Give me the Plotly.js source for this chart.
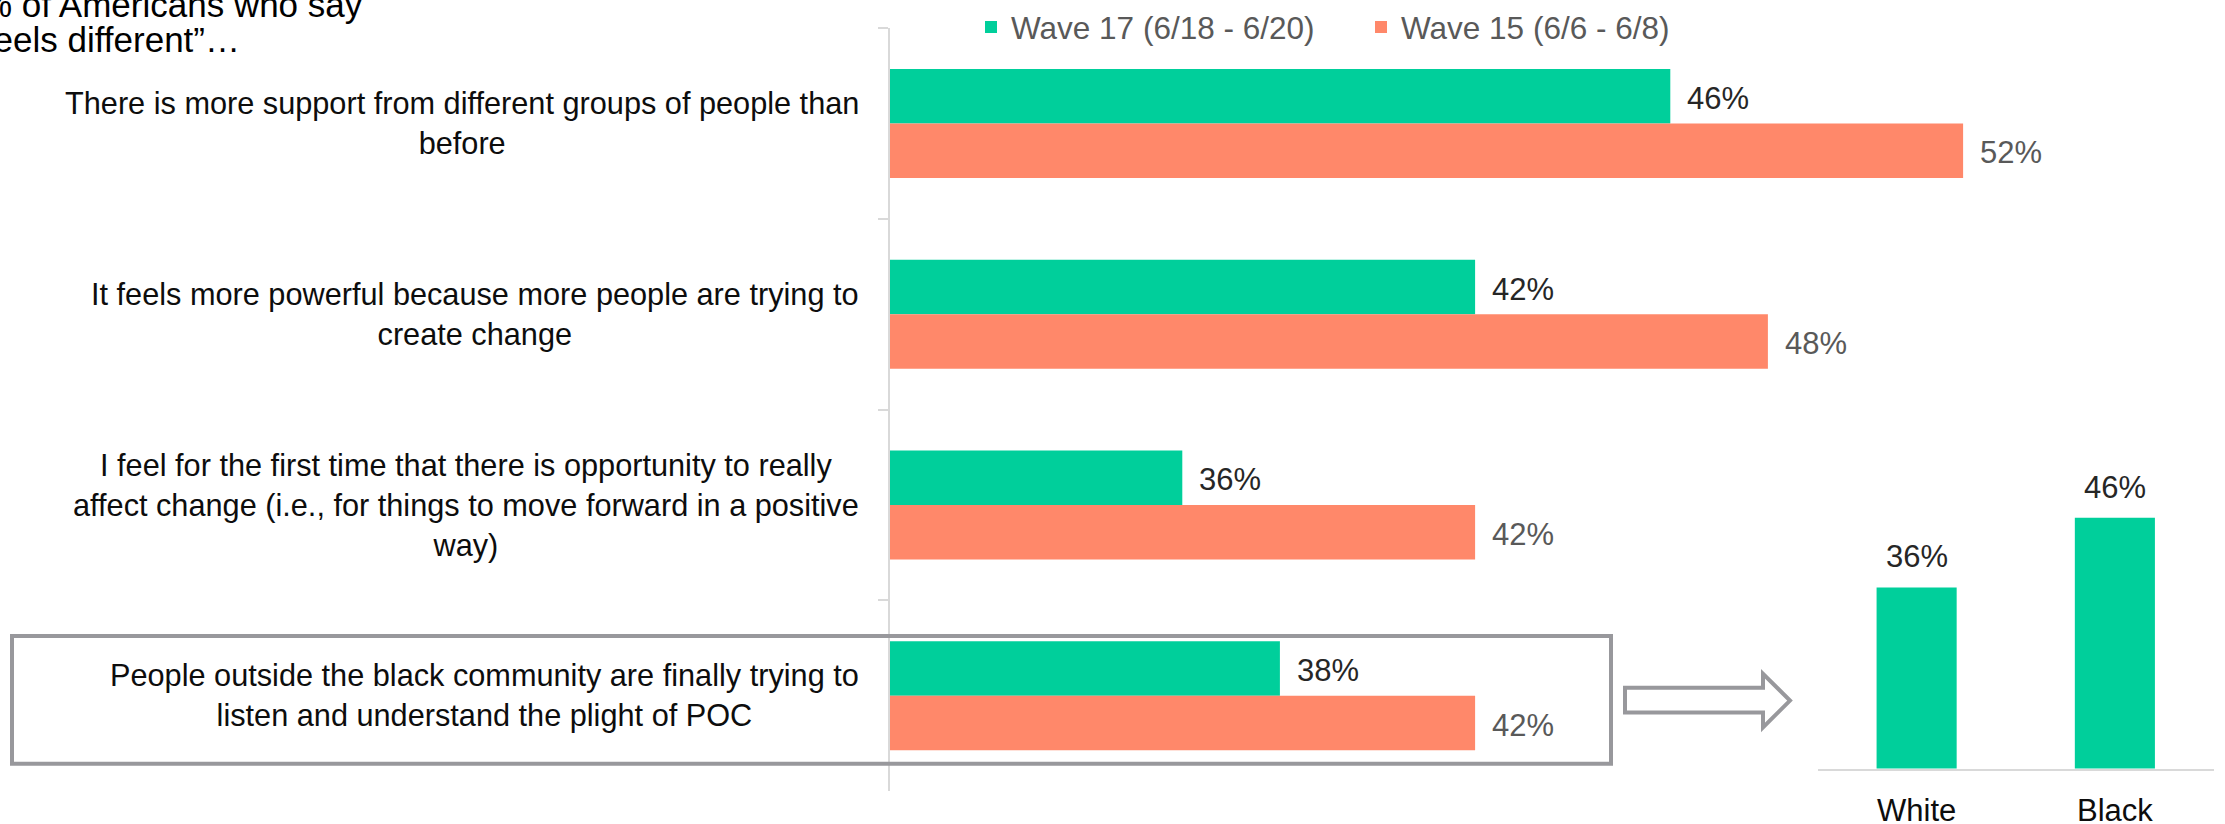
<!DOCTYPE html>
<html>
<head>
<meta charset="utf-8">
<script src="https://cdn.plot.ly/plotly-3.0.1.min.js"></script>
<style>html,body{margin:0;padding:0;background:#fff;}#chart{width:2225px;height:824px;}</style>
</head>
<body>
<div id="chart"></div>
<script>
// ---- data ----
const categories = [
  "There is more support from different groups of people than before",
  "It feels more powerful because more people are trying to create change",
  "I feel for the first time that there is opportunity to really affect change (i.e., for things to move forward in a positive way)",
  "People outside the black community are finally trying to listen and understand the plight of POC"
];
const categoryLabels = [
  "There is more support from different groups of people than<br>before",
  "It feels more powerful because more people are trying to<br>create change",
  "I feel for the first time that there is opportunity to really<br>affect change (i.e., for things to move forward in a positive<br>way)",
  "People outside the black community are finally trying to<br>listen and understand the plight of POC"
];
const seriesNames = ["Wave 17 (6/18 - 6/20)", "Wave 15 (6/6 - 6/8)"];
const wave17 = [46, 42, 36, 38];
const wave15 = [52, 48, 42, 42];
const raceCategories = ["White", "Black"];
const raceValues = [36, 46];
const titleLines = ["% of Americans who say", "\u201CIt feels different\u201D\u2026"];

// ---- layout helpers (page pixels -> paper fractions) ----
const W = 2225, H = 824;
const px = x => x / W;
const py = y => 1 - y / H;

const GREEN = "#00CF9B", ORANGE = "#FF886A";
const FONT = "Liberation Sans, Arial, Helvetica, sans-serif";

const traces = [
  {type: "bar", orientation: "h", name: seriesNames[0], y: categories, x: wave17,
   marker: {color: GREEN}, xaxis: "x", yaxis: "y", hoverinfo: "x+name"},
  {type: "bar", orientation: "h", name: seriesNames[1], y: categories, x: wave15,
   marker: {color: ORANGE}, xaxis: "x", yaxis: "y", hoverinfo: "x+name"},
  {type: "bar", x: raceCategories, y: raceValues, width: 0.404, showlegend: false,
   marker: {color: GREEN}, xaxis: "x2", yaxis: "y2", hoverinfo: "x+y"}
];

const annotations = [];
// category labels
categoryLabels.forEach((t, i) => annotations.push({
  xref: "paper", yref: "y", x: px(861), y: i, xanchor: "right", yanchor: "middle",
  text: t, align: "center", showarrow: false,
  font: {family: FONT, size: 30.7, color: "#0d0d0d"}
}));
// value labels main chart
const half = 0.143;
wave17.forEach((v, i) => annotations.push({
  xref: "x", yref: "y", x: v, y: i - half, xanchor: "left", yanchor: "middle",
  xshift: 15, yshift: -2, text: v + "%", showarrow: false,
  font: {family: FONT, size: 31, color: "#262626"}
}));
wave15.forEach((v, i) => annotations.push({
  xref: "x", yref: "y", x: v, y: i + half, xanchor: "left", yanchor: "middle",
  xshift: 15, yshift: -2, text: v + "%", showarrow: false,
  font: {family: FONT, size: 31, color: "#595959"}
}));
// value labels small chart
raceValues.forEach((v, i) => annotations.push({
  xref: "x2", yref: "y2", x: raceCategories[i], y: v, xanchor: "center", yanchor: "bottom",
  yshift: 11, text: v + "%", showarrow: false,
  font: {family: FONT, size: 31, color: "#262626"}
}));
// title (cropped at the page edge as in the reference)
annotations.push({xref: "paper", yref: "paper", x: px(365), y: py(22), xanchor: "right", yanchor: "bottom",
  text: titleLines[0], showarrow: false, font: {family: FONT, size: 35, color: "#000"}});
annotations.push({xref: "paper", yref: "paper", x: px(242), y: py(57), xanchor: "right", yanchor: "bottom",
  text: titleLines[1], showarrow: false, font: {family: FONT, size: 35, color: "#000"}});

const arrowPts = [[1625,687],[1763,687],[1763,673],[1790,700],[1763,727],[1763,712],[1625,712]];
const arrowPath = "M" + arrowPts.map(p => px(p[0]).toFixed(5) + "," + py(p[1]).toFixed(5)).join(" L") + " Z";

const shapes = [
  {type: "rect", xref: "paper", yref: "paper", x0: px(12), x1: px(1611), y0: py(635), y1: py(763.5),
   line: {color: "#98989c", width: 4}, fillcolor: "rgba(0,0,0,0)", layer: "above"},
  {type: "path", xref: "paper", yref: "paper", path: arrowPath,
   line: {color: "#98989c", width: 4}, fillcolor: "#ffffff"}
];

const layout = {
  width: W, height: H,
  margin: {l: 0, r: 0, t: 0, b: 0, pad: 0},
  paper_bgcolor: "#fff", plot_bgcolor: "rgba(0,0,0,0)",
  font: {family: FONT, size: 30, color: "#262626"},
  barmode: "group", bargap: 0.428, bargroupgap: 0,
  showlegend: true,
  legend: {orientation: "h", x: px(971), xanchor: "left", y: py(23), yanchor: "middle",
    font: {family: FONT, size: 31.5, color: "#595959"}, bgcolor: "rgba(0,0,0,0)",
    traceorder: "normal", entrywidth: 345, itemclick: false},
  xaxis: {domain: [px(889.5), px(2109.5)], range: [30, 55], anchor: "y",
    visible: false, showgrid: false, zeroline: false, fixedrange: true},
  yaxis: {domain: [py(791), py(24.3)], type: "category", autorange: "reversed", anchor: "x",
    showline: true, linecolor: "#d9d9d9", linewidth: 2, ticks: "outside", tickson: "boundaries",
    ticklen: 10, tickwidth: 2, tickcolor: "#d9d9d9", showticklabels: false,
    showgrid: false, zeroline: false, fixedrange: true},
  xaxis2: {domain: [px(1817.5), px(2214)], type: "category", anchor: "y2",
    showline: true, linecolor: "#d9d9d9", linewidth: 2, ticks: "", showgrid: false, zeroline: false,
    tickfont: {family: FONT, size: 31, color: "#0d0d0d"}, ticklabelstandoff: 13, fixedrange: true},
  yaxis2: {domain: [py(768.3), py(418.3)], range: [10, 60], anchor: "x2",
    visible: false, showgrid: false, zeroline: false, fixedrange: true},
  annotations: annotations,
  shapes: shapes
};

Plotly.newPlot("chart", traces, layout, {displayModeBar: false, staticPlot: false, responsive: false});
</script>
</body>
</html>
